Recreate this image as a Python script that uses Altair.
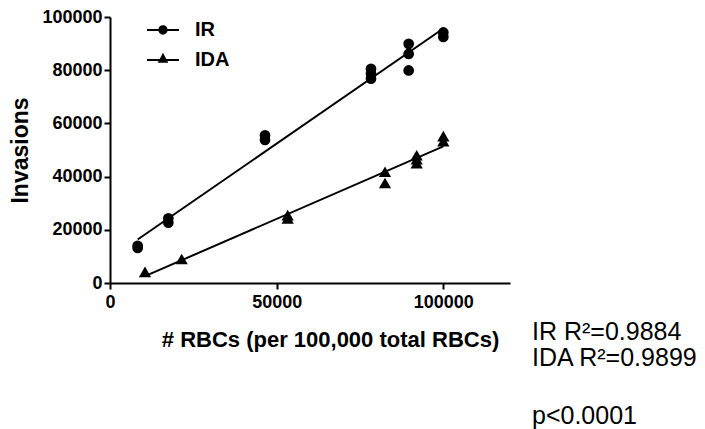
import altair as alt
import pandas as pd

# ---- data ----
series_names = ["IR", "IDA"]
ir_x = [8300, 8300, 17500, 17500, 46500, 46500, 78300, 78300, 78300, 89600, 89600, 89600, 100000, 100000]
ir_y = [13200, 14000, 24300, 22700, 55500, 53800, 80500, 78700, 76800, 89900, 86100, 79900, 94200, 92500]
ida_x = [10500, 21500, 53300, 53300, 82500, 82500, 92000, 92000, 92000, 100000, 100000]
ida_y = [4200, 9000, 25500, 24300, 41800, 37600, 48000, 46500, 45000, 55200, 53300]
x_ticks = [0, 50000, 100000]
y_ticks = [0, 20000, 40000, 60000, 80000, 100000]
annotations = ["IR R²=0.9884", "IDA R²=0.9899", "p<0.0001"]

df = pd.concat([
    pd.DataFrame({"x": ir_x, "y": ir_y, "series": "IR"}),
    pd.DataFrame({"x": ida_x, "y": ida_y, "series": "IDA"}),
], ignore_index=True)

FONT = "Liberation Sans"

x_enc = alt.X("x:Q",
              scale=alt.Scale(domain=[0, 120000], nice=False),
              axis=alt.Axis(values=x_ticks, format="d", labelFlush=False,
                            title="# RBCs (per 100,000 total RBCs)",
                            titleX=220, titleY=63, titleBaseline="alphabetic",
                            titleFontSize=22, labelPadding=4))
y_enc = alt.Y("y:Q",
              scale=alt.Scale(domain=[0, 100000], nice=False),
              axis=alt.Axis(values=y_ticks, format="d", title="Invasions", labelFlush=False,
                            domainColor="black", domainWidth=2,
                            titleX=-83, titleBaseline="alphabetic",
                            titleFontSize=23, labelPadding=2))

points = alt.Chart(df).mark_point(filled=True, color="black", opacity=1).encode(
    x=x_enc, y=y_enc,
    shape=alt.Shape("series:N",
                    scale=alt.Scale(domain=series_names, range=["circle", "triangle-up"]),
                    legend=None),
    size=alt.Size("series:N",
                  scale=alt.Scale(domain=series_names, range=[115, 150]),
                  legend=None),
)

# legend symbols: a short 2px bar with the marker on it (all filled, same winding)
circle_path = ("M-1,-0.0625L1,-0.0625L1,0.0625L-1,0.0625Z"
               "M0.29,0A0.29,0.29,0,1,1,-0.29,0A0.29,0.29,0,1,1,0.29,0Z")
tri_path = ("M-1,-0.0625L1,-0.0625L1,0.0625L-1,0.0625Z"
            "M-0.33,0.17L0,-0.46L0.33,0.17Z")

legend_layer = alt.Chart(df).mark_point(filled=True, color="black", opacity=0).encode(
    x=x_enc, y=y_enc,
    shape=alt.Shape("series:N",
                    scale=alt.Scale(domain=series_names, range=[circle_path, tri_path]),
                    legend=alt.Legend(title=None, orient="none", legendX=37, legendY=-3,
                                      symbolSize=1024, symbolOpacity=1,
                                      symbolFillColor="black", symbolStrokeWidth=0,
                                      labelFont=FONT, labelFontSize=20,
                                      labelFontWeight="bold", labelColor="black",
                                      labelOffset=16, rowPadding=4, padding=0)),
)

reg = alt.Chart(df).transform_regression("x", "y", groupby=["series"]).mark_line(
    color="black", strokeWidth=2).encode(x=x_enc, y=y_enc, detail="series:N")

text_y = [323, 349, 407]
texts = []
for t, yy in zip(annotations, text_y):
    texts.append(
        alt.Chart(pd.DataFrame({"t": [t]})).mark_text(
            align="left", baseline="alphabetic", font=FONT, fontSize=25, color="black"
        ).encode(text="t:N", x=alt.value(422), y=alt.value(yy))
    )

chart = alt.layer(reg, points, legend_layer, *texts).resolve_scale(
    shape="independent", size="independent"
).properties(
    width=400, height=266,
    autosize=alt.AutoSizeParams(type="none"),
    padding={"left": 102, "top": 9, "right": 187, "bottom": 150},
).configure_view(stroke=None).configure_axis(
    grid=False, domain=True, ticks=True, domainColor="black", domainWidth=2,
    tickColor="black", tickWidth=2, tickSize=6, labelFont=FONT, labelFontSize=18,
    labelFontWeight="bold", labelColor="black", titleFont=FONT,
    titleFontWeight="bold", titleColor="black",
)

chart.save("out.html", embed_options={"renderer": "svg", "actions": False})
